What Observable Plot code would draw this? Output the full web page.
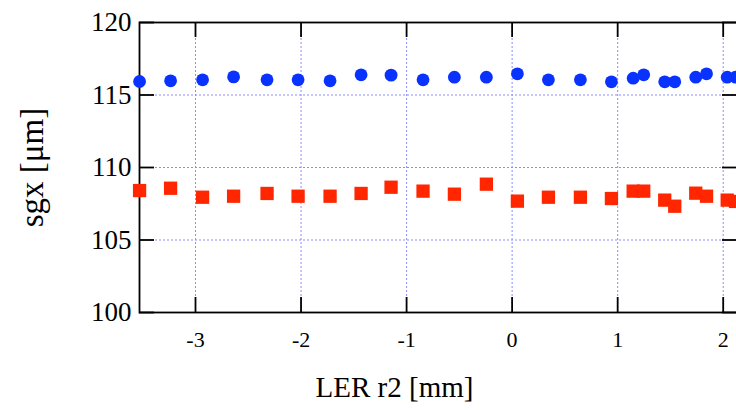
<!DOCTYPE html>
<html><head><meta charset="utf-8">
<script src="https://cdn.jsdelivr.net/npm/d3@7"></script>
<script src="https://cdn.jsdelivr.net/npm/@observablehq/plot@0.6"></script>
<style>body{margin:0;background:#fff;overflow:hidden;}</style>
</head><body><div id="chart"></div>
<script>
const r2 = [-3.53,-3.236,-2.933,-2.639,-2.322,-2.028,-1.725,-1.431,-1.147,-0.844,-0.547,-0.244,0.050,0.344,0.647,0.941,1.147,1.247,1.446,1.541,1.740,1.842,2.038,2.117];
const sgxBlue = [115.93,115.98,116.05,116.25,116.05,116.05,115.98,116.39,116.37,116.05,116.23,116.23,116.46,116.05,116.05,115.91,116.16,116.39,115.91,115.91,116.23,116.46,116.23,116.23];
const sgxRed = [108.41,108.57,107.95,108.02,108.21,108.02,108.02,108.21,108.64,108.37,108.16,108.85,107.68,107.95,107.95,107.86,108.37,108.37,107.75,107.33,108.23,108.02,107.75,107.66];
const xTicks = [-3,-2,-1,0,1,2];
const yTicks = [100,105,110,115,120];
const gridYTicks = [105,110,115];
const xLabel = "LER r2 [mm]";
const yLabel = "sgx [μm]";

const data = r2.map((x, i) => ({x, blue: sgxBlue[i], red: sgxRed[i]}));

const FONT = "Liberation Serif";
const W = 736, H = 410, ML = 139, MR = -1, MT = 22, MB = 98;
const PW = W - ML - MR, PH = H - MT - MB, TICK = 15;

const chart = Plot.plot({
  width: W, height: H,
  marginLeft: ML, marginRight: MR, marginTop: MT, marginBottom: MB,
  style: {fontFamily: FONT, color: "black", background: "white", overflow: "hidden"},
  x: {domain: [-3.5306, 2.1355], axis: null},
  y: {domain: [100, 120], axis: null},
  marks: [
    Plot.gridX(xTicks, {stroke: "#8c8cff", strokeOpacity: 1, strokeDasharray: "2,2"}),
    Plot.gridY(gridYTicks, {stroke: "#8c8cff", strokeOpacity: 1, strokeDasharray: "2,2"}),
    Plot.frame({stroke: "black", strokeWidth: 1.8}),
    Plot.tickX(xTicks, {x: d => d, insetTop: PH - TICK, stroke: "black", strokeWidth: 1.8}),
    Plot.tickX(xTicks, {x: d => d, insetBottom: PH - TICK, stroke: "black", strokeWidth: 1.8}),
    Plot.tickY(yTicks, {y: d => d, insetRight: PW - TICK, stroke: "black", strokeWidth: 1.8}),
    Plot.tickY(yTicks, {y: d => d, insetLeft: PW - TICK, stroke: "black", strokeWidth: 1.8}),
    Plot.text(xTicks, {x: d => d, text: d => String(d), frameAnchor: "bottom", dy: 27, lineAnchor: "middle", fontSize: 22, fontFamily: FONT, fill: "black"}),
    Plot.text(yTicks, {y: d => d, text: d => String(d), frameAnchor: "left", dx: -8, textAnchor: "end", lineAnchor: "middle", fontSize: 27, fontFamily: FONT, fill: "black"}),
    Plot.dot(data, {x: "x", y: "blue", r: 6.4, fill: "#0a32ff", stroke: "none"}),
    Plot.dot(data, {x: "x", y: "red", symbol: "square", r: 7.5, fill: "#ff2600", stroke: "none"}),
    Plot.text([xLabel], {text: d => d, frameAnchor: "bottom", dy: 75, dx: -44, lineAnchor: "middle", textAnchor: "middle", fontSize: 29, fontFamily: FONT, fill: "black"}),
    Plot.text([yLabel], {text: d => d, frameAnchor: "left", dx: -107, rotate: -90, lineAnchor: "middle", textAnchor: "middle", fontSize: 33, fontFamily: FONT, fill: "black"})
  ]
});
document.getElementById("chart").appendChild(chart);
</script>
</body></html>
